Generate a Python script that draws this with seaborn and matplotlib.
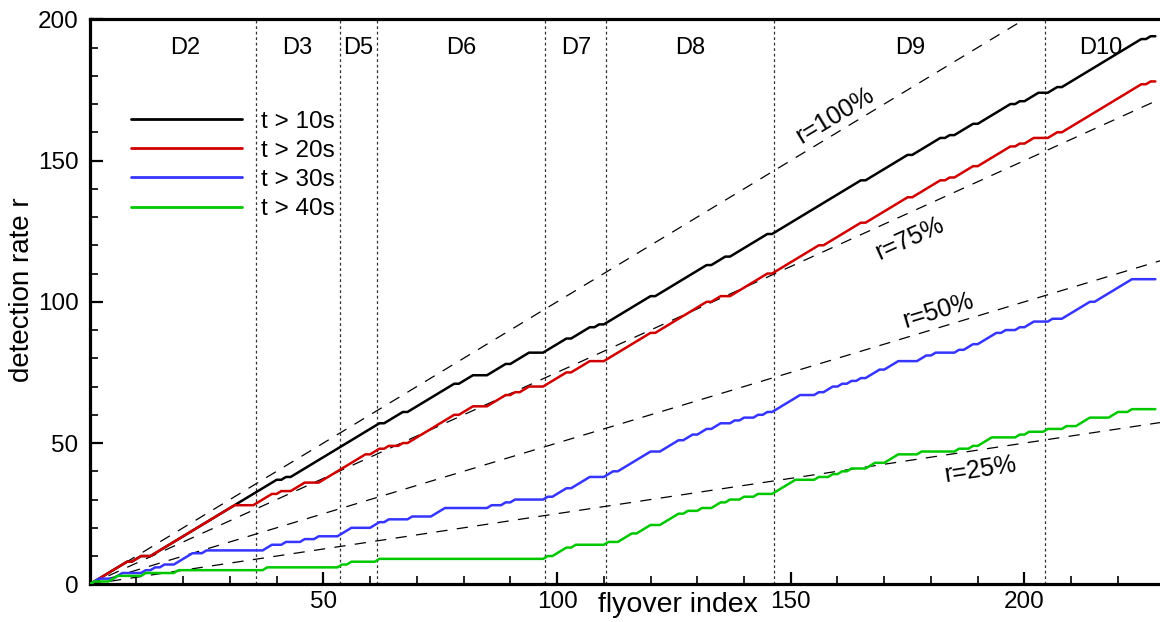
import numpy as np
import pandas as pd
import matplotlib
matplotlib.use("Agg")
import matplotlib.pyplot as plt
from matplotlib.ticker import MultipleLocator
import seaborn as sns

# Cumulative number of detections against flyover index, one polyline per
# minimum track duration (vertices of each staircase-like curve).
t10_x = [0, 8, 9, 11, 13, 31, 40, 41, 42, 43, 62, 63, 67, 68, 78, 79, 82, 85, 89, 90,
         94, 97, 102, 103, 107, 108, 109, 110, 120, 121, 132, 133, 136, 137, 145, 146,
         165, 166, 175, 176, 182, 183, 184, 185, 189, 190, 197, 198, 199, 200, 203, 205,
         207, 208, 225, 226, 227, 228]
t10_y = [0, 8, 8, 10, 10, 28, 37, 37, 38, 38, 57, 57, 61, 61, 71, 71, 74, 74, 78, 78,
         82, 82, 87, 87, 91, 91, 92, 92, 102, 102, 113, 113, 116, 116, 124, 124,
         143, 143, 152, 152, 158, 158, 159, 159, 163, 163, 170, 170, 171, 171, 174, 174,
         176, 176, 193, 193, 194, 194]

t20_x = [0, 8, 9, 11, 13, 31, 35, 39, 40, 41, 43, 46, 49, 53, 59, 60, 62, 63, 64, 66,
         67, 68, 78, 79, 82, 85, 89, 90, 91, 92, 94, 97, 102, 103, 107, 110, 120, 121,
         132, 133, 135, 137, 145, 146, 156, 157, 165, 166, 175, 176, 182, 183, 184, 185,
         189, 190, 197, 198, 199, 200, 202, 205, 207, 208, 225, 226, 227, 228]
t20_y = [0, 8, 8, 10, 10, 28, 28, 32, 32, 33, 33, 36, 36, 40, 46, 46, 48, 48, 49, 49,
         50, 50, 60, 60, 63, 63, 67, 67, 68, 68, 70, 70, 75, 75, 79, 79, 89, 89,
         100, 100, 102, 102, 110, 110, 120, 120, 128, 128, 137, 137, 143, 143, 144, 144,
         148, 148, 155, 155, 156, 156, 158, 158, 160, 160, 177, 177, 178, 178]

t30_x = [0, 2, 5, 7, 11, 12, 13, 14, 15, 16, 18, 22, 24, 25, 37, 39, 41, 42, 45, 46,
         48, 49, 53, 56, 60, 62, 63, 64, 68, 69, 73, 76, 85, 86, 88, 89, 90, 91, 97, 98,
         99, 102, 103, 107, 110, 112, 113, 120, 122, 126, 127, 129, 130, 132, 133, 135,
         137, 138, 139, 140, 142, 143, 144, 145, 146, 152, 155, 156, 157, 159, 160, 161,
         162, 163, 164, 165, 166, 169, 170, 173, 177, 179, 180, 181, 185, 186, 187, 189,
         190, 194, 195, 196, 198, 199, 200, 202, 205, 206, 208, 214, 215, 223, 228]
t30_y = [0, 2, 2, 4, 4, 5, 5, 6, 6, 7, 7, 11, 11, 12, 12, 14, 14, 15, 15, 16,
         16, 17, 17, 20, 20, 22, 22, 23, 23, 24, 24, 27, 27, 28, 28, 29, 29, 30, 30, 31,
         31, 34, 34, 38, 38, 40, 40, 47, 47, 51, 51, 53, 53, 55, 55, 57,
         57, 58, 58, 59, 59, 60, 60, 61, 61, 67, 67, 68, 68, 70, 70, 71,
         71, 72, 72, 73, 73, 76, 76, 79, 79, 81, 81, 82, 82, 83, 83, 85,
         85, 89, 89, 90, 90, 91, 91, 93, 93, 94, 94, 100, 100, 108, 108]

t40_x = [0, 1, 4, 6, 11, 12, 18, 19, 37, 38, 53, 54, 55, 56, 61, 62, 97, 98, 99, 102,
         103, 104, 110, 111, 113, 116, 117, 120, 122, 126, 127, 128, 130, 131, 133, 135,
         136, 137, 139, 140, 142, 143, 146, 151, 155, 156, 158, 159, 160, 161, 162, 163,
         166, 168, 170, 173, 177, 178, 185, 186, 188, 189, 190, 193, 198, 199, 200, 201,
         204, 205, 208, 209, 211, 214, 218, 220, 222, 223, 228]
t40_y = [0, 1, 1, 3, 3, 4, 4, 5, 5, 6, 6, 7, 7, 8, 8, 9, 9, 10, 10, 13,
         13, 14, 14, 15, 15, 18, 18, 21, 21, 25, 25, 26, 26, 27, 27, 29,
         29, 30, 30, 31, 31, 32, 32, 37, 37, 38, 38, 39, 39, 40, 40, 41,
         41, 43, 43, 46, 46, 47, 47, 48, 48, 49, 49, 52, 52, 53, 53, 54,
         54, 55, 55, 56, 56, 59, 59, 61, 61, 62, 62]

series_labels = ["t > 10s", "t > 20s", "t > 30s", "t > 40s"]
series_colors = ["#000000", "#d00000", "#3535ff", "#00c800"]

# Reference detection rates (dashed lines r = rate * index)
rates = [1.0, 0.75, 0.5, 0.25]
rate_labels = ["r=100%", "r=75%", "r=50%", "r=25%"]

# Flyover indices separating the data sets D2 ... D10
boundaries = [35.5, 53.5, 61.5, 97.5, 110.5, 146.5, 204.5]
set_names = ["D2", "D3", "D5", "D6", "D7", "D8", "D9", "D10"]

df = pd.concat([
    pd.DataFrame({"flyover": x, "detections": y, "threshold": lab})
    for x, y, lab in zip([t10_x, t20_x, t30_x, t40_x],
                         [t10_y, t20_y, t30_y, t40_y], series_labels)
], ignore_index=True)

sns.set_style("ticks")
plt.rcParams["font.family"] = ["Liberation Sans", "DejaVu Sans"]
plt.rcParams.update({
    "text.color": "black",
    "axes.labelcolor": "black",
    "axes.edgecolor": "black",
    "xtick.color": "black",
    "ytick.color": "black",
})

fig = plt.figure(figsize=(11.6, 6.22), dpi=100)
ax = fig.add_axes([0.0773, 0.0606, 0.9227, 0.9084])

sns.lineplot(data=df, x="flyover", y="detections", hue="threshold",
             hue_order=series_labels, palette=series_colors,
             estimator=None, sort=False, linewidth=1.8, ax=ax, zorder=3)

ax.set_xlim(0, 229)
ax.set_ylim(0, 200)

# dashed reference lines and their rotated labels
label_anchor = [(159.5, 166.0), (175.5, 122.5), (181.5, 97.0), (190.5, 40.7)]
for r, lab, (tx, ty) in zip(rates, rate_labels, label_anchor):
    ax.axline((0, 0), slope=r, color="black", linewidth=0.9,
              dashes=(9, 7.5), zorder=2)
    ax.text(tx, ty, lab, fontsize=18, ha="center", va="center",
            rotation=np.degrees(np.arctan(r)), rotation_mode="anchor",
            transform_rotates_text=True, zorder=4)

# data set separators and names
for b in boundaries:
    ax.axvline(b, color="#333333", linewidth=0.9, dashes=(2.2, 2.2), zorder=1)
edges = [5.5] + boundaries + [228]
for name, a, b in zip(set_names, edges[:-1], edges[1:]):
    ax.text((a + b) / 2, 190, name, fontsize=17, ha="center", va="center")

# legend
old = ax.get_legend()
handles = old.legend_handles
labels = [t.get_text() for t in old.get_texts()]
old.remove()
for h in handles:
    h.set_linewidth(2.0)
ax.legend(handles, labels, loc="upper left", bbox_to_anchor=(0.0386, 0.838),
          frameon=False, fontsize=17.5, handlelength=4.55, handletextpad=0.8,
          labelspacing=0.29, borderpad=0, borderaxespad=0)

# axes styling
ax.spines["right"].set_visible(False)
for s in ["left", "bottom", "top"]:
    ax.spines[s].set_linewidth(2.3)
ax.set_xticks([50, 100, 150, 200])
ax.set_yticks([0, 50, 100, 150, 200])
ax.xaxis.set_minor_locator(MultipleLocator(10))
ax.yaxis.set_minor_locator(MultipleLocator(10))
ax.tick_params(which="both", direction="in", top=False, right=False)
ax.tick_params(which="major", length=9, width=1.6, labelsize=17.5)
ax.tick_params(which="minor", length=5.5, width=1.2)
ax.tick_params(axis="x", which="major", pad=5)
ax.tick_params(axis="y", which="major", pad=8)

ax.set_xlabel("flyover index", fontsize=20.5)
ax.xaxis.set_label_coords(0.55, -0.014)
ax.set_ylabel("detection rate r", fontsize=20)
ax.yaxis.label.set_va("center")
ax.yaxis.set_label_coords(-0.063, 0.521)

fig.savefig("out.png", dpi=100)
